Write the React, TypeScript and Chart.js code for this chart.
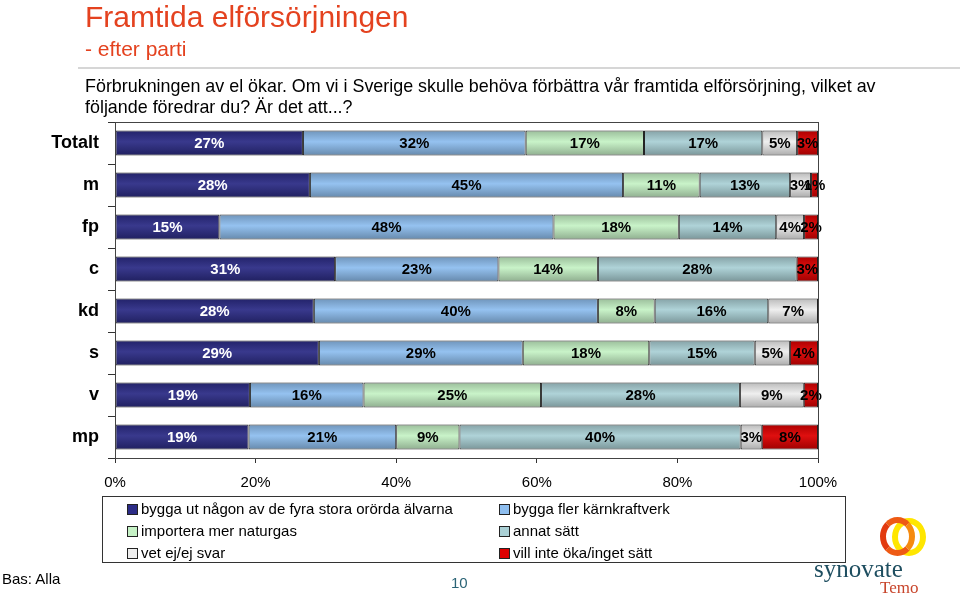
import React, { useEffect, useRef } from "react";
import { Chart, registerables } from "chart.js";

Chart.register(...registerables);

// ---- data ----
const categories = ["Totalt", "m", "fp", "c", "kd", "s", "v", "mp"];
const seriesNames = [
  "bygga ut någon av de fyra stora orörda älvarna",
  "bygga fler kärnkraftverk",
  "importera mer naturgas",
  "annat sätt",
  "vet ej/ej svar",
  "vill inte öka/inget sätt",
];
const alvarna = [27, 28, 15, 31, 28, 29, 19, 19];
const karnkraft = [32, 45, 48, 23, 40, 29, 16, 21];
const naturgas = [17, 11, 18, 14, 8, 18, 25, 9];
const annatSatt = [17, 13, 14, 28, 16, 15, 28, 40];
const vetEj = [5, 3, 4, 0, 7, 5, 9, 3];
const villInte = [3, 1, 2, 3, 0, 4, 2, 8];
const xTickValues = [0, 20, 40, 60, 80, 100];

const seriesValues = [alvarna, karnkraft, naturgas, annatSatt, vetEj, villInte];

// ---- styles ----
const seriesColors = ["#2C2C86", "#8EBEEF", "#C6F2C6", "#AAD0D5", "#EEEEEE", "#DD0000"];
const FONT = "'Liberation Sans', Arial, Helvetica, sans-serif";

function shade(hex: string, amt: number): string {
  const n = parseInt(hex.slice(1), 16);
  let r = (n >> 16) & 255, g = (n >> 8) & 255, b = n & 255;
  const t = amt < 0 ? 0 : 255;
  const p = Math.abs(amt);
  r = Math.round(r + (t - r) * p);
  g = Math.round(g + (t - g) * p);
  b = Math.round(b + (t - b) * p);
  return `rgb(${r},${g},${b})`;
}

// normalise each category to 100 % (100 % stacked bar)
const totals = categories.map((_, i) => seriesValues.reduce((s, arr) => s + arr[i], 0));
const normalised = seriesValues.map((arr) => arr.map((v, i) => (v / totals[i]) * 100));

const BAR_FRACTION = 0.6;

const labelPlugin = {
  id: "segLabels",
  afterDatasetsDraw(chart: any) {
    const ctx = chart.ctx;
    ctx.save();
    ctx.font = `bold 15px ${FONT}`;
    ctx.textAlign = "center";
    ctx.textBaseline = "middle";
    seriesValues.forEach((vals, d) => {
      const meta = chart.getDatasetMeta(d);
      meta.data.forEach((bar: any, i: number) => {
        const v = vals[i];
        if (!v) return;
        const { x, base, y } = bar.getProps(["x", "base", "y"], true);
        ctx.fillStyle = d === 0 ? "#ffffff" : "#000000";
        ctx.fillText(v + "%", (x + base) / 2, y + 1);
      });
    });
    ctx.restore();
  },
};

const framePlugin = {
  id: "frame",
  afterDraw(chart: any) {
    const { left, top, right, bottom } = chart.chartArea;
    const ctx = chart.ctx;
    ctx.save();
    ctx.strokeStyle = "#444";
    ctx.lineWidth = 1;
    ctx.strokeRect(Math.round(left) + 0.5, Math.round(top) + 0.5, Math.round(right - left), Math.round(bottom - top));
    ctx.restore();
  },
};

function ChartCanvas() {
  const ref = useRef<HTMLCanvasElement | null>(null);
  useEffect(() => {
    if (!ref.current) return;
    const datasets = normalised.map((data, d) => ({
      label: seriesNames[d],
      data,
      backgroundColor: (c: any) => {
        const base = seriesColors[d];
        try {
          const chart = c.chart;
          const ys = chart.scales && chart.scales.y;
          if (!ys || c.dataIndex == null || !chart.ctx) return base;
          const yc = ys.getPixelForValue(c.dataIndex);
          const half = ((ys.height / categories.length) * BAR_FRACTION) / 2;
          if (!isFinite(yc) || !isFinite(half) || half <= 0) return base;
          const g = chart.ctx.createLinearGradient(0, yc - half, 0, yc + half);
          g.addColorStop(0, shade(base, -0.22));
          g.addColorStop(0.45, shade(base, 0.06));
          g.addColorStop(1, shade(base, -0.28));
          return g;
        } catch (e) {
          return base;
        }
      },
      borderColor: "#222222",
      borderWidth: 1,
      borderSkipped: false,
      categoryPercentage: 1,
      barPercentage: BAR_FRACTION,
    }));
    const chart = new Chart(ref.current, {
      type: "bar",
      data: { labels: categories, datasets },
      plugins: [labelPlugin, framePlugin],
      options: {
        indexAxis: "y",
        animation: false,
        responsive: false,
        devicePixelRatio: 1,
        layout: { padding: { left: 0, right: 142, top: 122, bottom: 97 } },
        plugins: { legend: { display: false }, tooltip: { enabled: false } },
        scales: {
          x: {
            stacked: true,
            min: 0,
            max: 100,
            afterBuildTicks: (scale: any) => {
              scale.ticks = xTickValues.map((v) => ({ value: v }));
            },
            afterFit: (scale: any) => {
              scale.height = 40;
            },
            ticks: {
              callback: (v: any) => v + "%",
              font: { family: FONT, size: 15 },
              color: "#000",
              padding: 11,
              maxRotation: 0,
            },
            grid: { drawOnChartArea: false, drawTicks: true, tickLength: 5, color: "#333" },
            border: { color: "#333" },
          },
          y: {
            stacked: true,
            afterFit: (scale: any) => {
              scale.width = 115;
            },
            ticks: {
              font: { family: FONT, size: 18, weight: "bold" },
              color: "#000",
              padding: 9,
            },
            grid: { drawOnChartArea: false, drawTicks: true, tickLength: 7, color: "#333", offset: true },
            border: { color: "#333" },
          },
        },
      } as any,
    });
    chart.update();
    return () => chart.destroy();
  }, []);
  return (
    <canvas
      ref={ref}
      width={960}
      height={595}
      style={{ position: "absolute", left: 0, top: 0, width: 960, height: 595 }}
    />
  );
}

const legendRows = [
  [0, 1],
  [2, 3],
  [4, 5],
];

export default function App() {
  return (
    <div
      style={{
        position: "fixed",
        left: 0,
        top: 0,
        width: 960,
        height: 595,
        background: "#fff",
        overflow: "hidden",
        fontFamily: FONT,
        color: "#000",
      }}
    >
      <ChartCanvas />
      <div style={{ position: "absolute", left: 85, top: 2, fontSize: 30, lineHeight: "30px", color: "#E4421F", whiteSpace: "nowrap" }}>
        Framtida elförsörjningen
      </div>
      <div style={{ position: "absolute", left: 85, top: 38, fontSize: 21, lineHeight: "21px", color: "#E4421F", whiteSpace: "nowrap" }}>
        - efter parti
      </div>
      <div style={{ position: "absolute", left: 78, top: 67, width: 882, height: 2, background: "#D6D6D6" }} />
      <div style={{ position: "absolute", left: 85, top: 76, fontSize: 17.9, lineHeight: "21px", whiteSpace: "nowrap" }}>
        Förbrukningen av el ökar. Om vi i Sverige skulle behöva förbättra vår framtida elförsörjning, vilket av
        <br />
        följande föredrar du? Är det att...?
      </div>

      {/* legend */}
      <div
        style={{
          position: "absolute",
          left: 102,
          top: 496,
          width: 744,
          height: 67,
          border: "1px solid #333",
          boxSizing: "border-box",
        }}
      />
      {legendRows.map((row, r) =>
        row.map((si, c) => (
          <div
            key={si}
            style={{
              position: "absolute",
              left: c === 0 ? 127 : 499,
              top: 498 + r * 22,
              height: 22,
              lineHeight: "22px",
              fontSize: 15,
              whiteSpace: "nowrap",
              display: "flex",
              alignItems: "center",
            }}
          >
            <span
              style={{
                display: "inline-block",
                width: 9,
                height: 9,
                border: "1px solid #222",
                background: seriesColors[si],
                marginRight: 3,
              }}
            />
            {seriesNames[si]}
          </div>
        ))
      )}

      <div style={{ position: "absolute", left: 2, top: 569, fontSize: 15, lineHeight: "20px" }}>Bas: Alla</div>
      <div style={{ position: "absolute", left: 451, top: 573, fontSize: 15, lineHeight: "20px", color: "#2B6476" }}>10</div>

      {/* logo */}
      <div
        style={{
          position: "absolute",
          left: 892,
          top: 518,
          width: 34,
          height: 38,
          borderRadius: "50%",
          border: "6px solid #FFE600",
          boxSizing: "border-box",
        }}
      />
      <div
        style={{
          position: "absolute",
          left: 880,
          top: 517,
          width: 35,
          height: 39,
          borderRadius: "50%",
          border: "6px solid #EE5A14",
          borderLeftColor: "#E23A10",
          borderRightColor: "#F58A10",
          boxSizing: "border-box",
        }}
      />
      <div
        style={{
          position: "absolute",
          left: 814,
          top: 555,
          fontSize: 25,
          lineHeight: "28px",
          fontFamily: "'Liberation Serif', 'DejaVu Serif', serif",
          color: "#1E4E60",
          whiteSpace: "nowrap",
        }}
      >
        synovate
      </div>
      <div
        style={{
          position: "absolute",
          left: 880,
          top: 578,
          fontSize: 17,
          lineHeight: "20px",
          fontFamily: "'Liberation Serif', 'DejaVu Serif', serif",
          color: "#C8452B",
          whiteSpace: "nowrap",
        }}
      >
        Temo
      </div>
    </div>
  );
}
